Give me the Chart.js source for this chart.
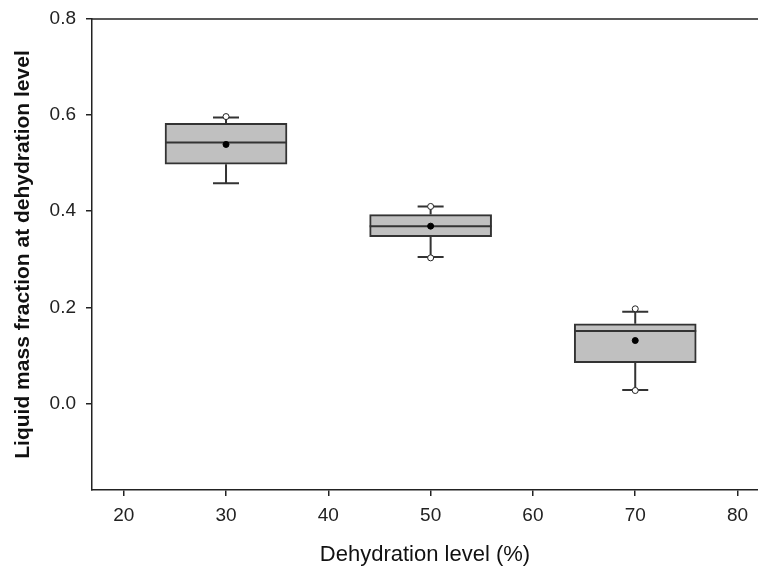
<!DOCTYPE html>
<html>
<head>
<meta charset="utf-8">
<script src="https://cdn.jsdelivr.net/npm/chart.js@4"></script>
<style>
  body { margin: 0; background: #fff; }
</style>
</head>
<body>
<canvas id="chart" width="758" height="572"></canvas>
<script>
// dehydration levels (%) and box stats
const levels = [30, 50, 70];
const q1 = [0.498, 0.347, 0.085];
const q3 = [0.583, 0.393, 0.166];
const medians = [0.543, 0.369, 0.151];
const means = [0.539, 0.369, 0.131];
const whiskerLow = [0.458, 0.305, 0.028];
const whiskerHigh = [0.595, 0.410, 0.191];
// open circles (extreme points) per level
const extremes = [[0.597], [0.410, 0.303], [0.197, 0.027]];

const xTicks = [20, 30, 40, 50, 60, 70, 80];
const yTicks = [0.0, 0.2, 0.4, 0.6, 0.8];

const boxLine = '#333';
const axisColor = '#222';
const font = 'Liberation Sans, Arial, sans-serif';

// whiskers, caps and median lines, drawn right after the boxes
const boxExtras = {
    id: 'boxExtras',
    afterDatasetDraw(chart, args) {
        if (args.index !== 0) return;
        const ctx = chart.ctx;
        const x = chart.scales.x;
        const y = chart.scales.y;
        const half = chart.getDatasetMeta(0).data[0].width / 2;
        const cap = 13;
        ctx.save();
        ctx.strokeStyle = boxLine;
        ctx.lineWidth = 2;
        levels.forEach((lv, i) => {
            const px = x.getPixelForValue(lv);
            ctx.beginPath();
            ctx.moveTo(px, y.getPixelForValue(q3[i]));
            ctx.lineTo(px, y.getPixelForValue(whiskerHigh[i]));
            ctx.moveTo(px, y.getPixelForValue(q1[i]));
            ctx.lineTo(px, y.getPixelForValue(whiskerLow[i]));
            ctx.moveTo(px - cap, y.getPixelForValue(whiskerHigh[i]));
            ctx.lineTo(px + cap, y.getPixelForValue(whiskerHigh[i]));
            ctx.moveTo(px - cap, y.getPixelForValue(whiskerLow[i]));
            ctx.lineTo(px + cap, y.getPixelForValue(whiskerLow[i]));
            ctx.moveTo(px - half, y.getPixelForValue(medians[i]));
            ctx.lineTo(px + half, y.getPixelForValue(medians[i]));
            ctx.stroke();
        });
        ctx.restore();
    },
    afterDraw(chart) {
        // top frame line
        const a = chart.chartArea;
        const ctx = chart.ctx;
        ctx.save();
        ctx.strokeStyle = axisColor;
        ctx.lineWidth = 1.5;
        ctx.beginPath();
        ctx.moveTo(a.left, a.top);
        ctx.lineTo(a.right, a.top);
        ctx.stroke();
        ctx.restore();
    }
};

const ctx = document.getElementById('chart').getContext('2d');
new Chart(ctx, {
    data: {
        datasets: [
            {
                type: 'bar',
                data: levels.map((lv, i) => ({ x: lv, y: [q1[i], q3[i]] })),
                backgroundColor: '#c0c0c0',
                borderColor: boxLine,
                borderWidth: 2,
                borderSkipped: false,
                barThickness: 122,
                order: 3
            },
            {
                type: 'scatter',
                data: levels.map((lv, i) => ({ x: lv, y: means[i] })),
                pointRadius: 3,
                pointBackgroundColor: '#000',
                pointBorderColor: '#000',
                pointBorderWidth: 1,
                order: 1
            },
            {
                type: 'scatter',
                data: levels.flatMap((lv, i) => extremes[i].map(v => ({ x: lv, y: v }))),
                pointRadius: 3,
                pointBackgroundColor: '#fff',
                pointBorderColor: '#222',
                pointBorderWidth: 1,
                order: 2
            }
        ]
    },
    options: {
        responsive: false,
        animation: false,
        layout: { autoPadding: false, padding: { top: 19, right: 0, left: 0, bottom: 0 } },
        plugins: {
            legend: { display: false },
            tooltip: { enabled: false }
        },
        scales: {
            x: {
                type: 'linear',
                offset: false,
                min: 16.9,
                max: 82,
                afterBuildTicks: s => { s.ticks = xTicks.map(v => ({ value: v })); },
                afterFit: s => { s.height = 82; s.paddingLeft = 0; s.paddingRight = 0; },
                grid: { offset: false, drawOnChartArea: false, drawTicks: true, tickLength: 6, color: axisColor, tickColor: axisColor, lineWidth: 1.5 },
                border: { color: axisColor, width: 1.5 },
                ticks: {
                    color: '#222',
                    padding: 8,
                    maxRotation: 0,
                    font: { family: font, size: 19 },
                    callback: v => String(v)
                },
                title: {
                    display: true,
                    text: 'Dehydration level (%)',
                    color: '#111',
                    font: { family: font, size: 22 },
                    padding: { top: 14 }
                }
            },
            y: {
                type: 'linear',
                min: -0.18,
                max: 0.8,
                afterBuildTicks: s => { s.ticks = yTicks.map(v => ({ value: v })); },
                afterFit: s => { s.width = 92; s.paddingTop = 0; s.paddingBottom = 0; },
                grid: { offset: false, drawOnChartArea: false, drawTicks: true, tickLength: 6, color: axisColor, tickColor: axisColor, lineWidth: 1.5 },
                border: { color: axisColor, width: 1.5 },
                ticks: {
                    color: '#222',
                    padding: 10,
                    font: { family: font, size: 19 },
                    callback: v => v.toFixed(1)
                },
                title: {
                    display: true,
                    text: 'Liquid mass fraction at dehydration level',
                    color: '#111',
                    font: { family: font, size: 21, weight: 'bold' },
                    padding: { top: 11, bottom: 0 }
                }
            }
        }
    },
    plugins: [boxExtras]
});
</script>
</body>
</html>
